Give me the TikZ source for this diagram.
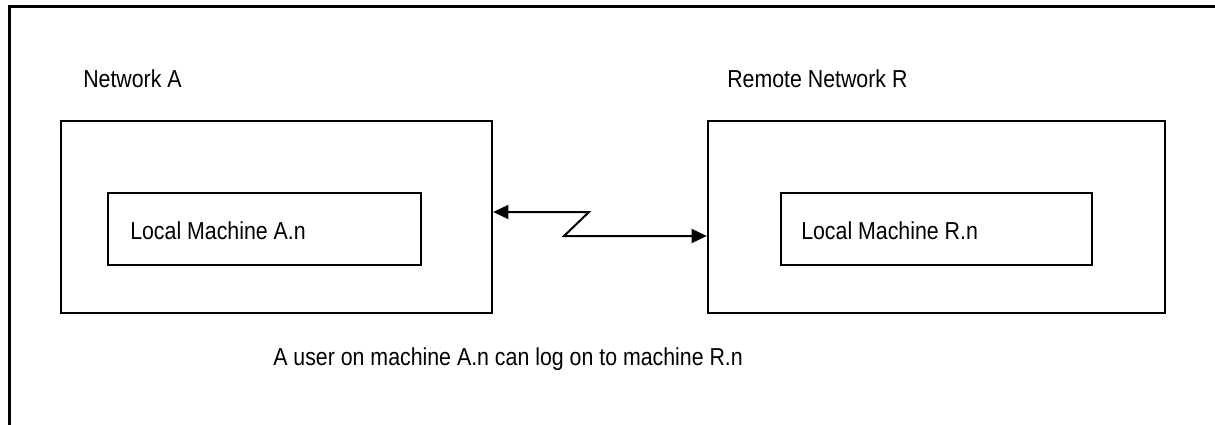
\documentclass[tikz,border=0pt]{standalone}
\usepackage{fontspec}
\usepackage{graphicx}
\setmainfont{Liberation Sans}
\usetikzlibrary{arrows.meta,fit}
\newcommand{\tallt}[1]{\scalebox{1}[1.15]{#1}}
\begin{document}
\begin{tikzpicture}[x=0.75pt,y=-0.75pt,
  frame/.style={line width=2.2pt},
  boxline/.style={draw, line width=1.7pt, inner sep=0pt},
  conn/.style={line width=1.5pt, {Triangle[length=11.5pt,width=10.5pt]}-{Triangle[length=11.5pt,width=10.5pt]}},
  lbl/.style={anchor=base west, inner sep=0pt, font=\fontsize{16}{19}\selectfont}]
\useasboundingbox (0,0) rectangle (1215,425);
\draw[frame] (9.5,426) -- (9.5,6.5) -- (1216,6.5);
\node[boxline, fit={(61,121) (492,313)}] (netA) {};
\node[boxline, fit={(108,193) (421,265)}] (machA) {};
\node[boxline, fit={(708,121) (1165,313)}] (netR) {};
\node[boxline, fit={(781,193) (1092,265)}] (machR) {};
\node[lbl] (tA) at (83,87) {\tallt{Network A}};
\node[lbl] (tR) at (727,87) {\tallt{Remote Network R}};
\node[lbl] (tmA) at (130,239) {\tallt{Local Machine A.n}};
\node[lbl] (tmR) at (801,239) {\tallt{Local Machine R.n}};
\node[lbl] (cap) at (273,365) {\tallt{A user on machine A.n can log on to machine R.n}};
\coordinate (z1) at (589,212);
\coordinate (z2) at (564,236);
\draw[conn] (netA.east |- z1) -- (z1) -- (z2) -- (netR.west |- z2);
\end{tikzpicture}
\end{document}
